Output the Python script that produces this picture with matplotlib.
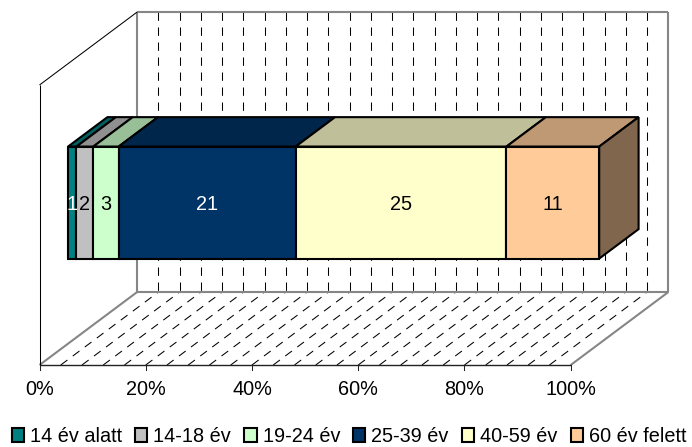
import matplotlib
matplotlib.use('Agg')
import matplotlib.pyplot as plt
from matplotlib.patches import Polygon, Patch

plt.rcParams['font.family'] = ['Liberation Sans', 'DejaVu Sans']
plt.rcParams['lines.scale_dashes'] = False

# Data
categories = ['14 év alatt', '14-18 év', '19-24 év', '25-39 év', '40-59 év', '60 év felett']
values = [1, 2, 3, 21, 25, 11]
colors = ['#008080', '#C0C0C0', '#CCFFCC', '#003366', '#FFFFCC', '#FFCC99']
top_colors = ['#006060', '#909090', '#99BF99', '#00264C', '#BFBF99', '#BF9973']
side_color = '#80664D'
label_colors = ['white', 'black', 'black', 'white', 'black', 'black']
tick_values = [0, 20, 40, 60, 80, 100]
grid_values = list(range(4, 100, 4))


# percent along x, depth into the chart and height (both 0-1) to pixels
def project(x, d, z):
    return (39.5 + 5.312 * x + 97.7 * d, 365 - 73 * d - 280 * z)


fig = plt.figure(figsize=(6.92, 4.47), dpi=100)
ax = fig.add_axes([0, 0, 1, 1])
ax.set_xlim(0, 692)
ax.set_ylim(447, 0)
ax.axis('off')


def line(p, q, **kw):
    ax.plot([p[0], q[0]], [p[1], q[1]], solid_capstyle='butt', dash_capstyle='butt', **kw)


dash = (0, (6.0, 4.8))

# Dashed gridlines on back wall and floor
for g in grid_values:
    line(project(g, 1, 1), project(g, 1, 0), color='black', lw=0.75, linestyle=dash, zorder=1)
    line(project(g, 0, 0), project(g, 1, 0), color='black', lw=0.75, linestyle=dash, zorder=1)

# Grey frame of wall and floor
grey = dict(color='#868686', lw=1.5, zorder=2)
line(project(0, 1, 0), project(0, 1, 1), **grey)
line(project(0, 1, 1), project(100, 1, 1), **grey)
line(project(100, 1, 1), project(100, 1, 0), **grey)
line(project(0, 1, 0), project(100, 1, 0), **grey)
line(project(0, 0, 0), project(0, 1, 0), **grey)
line(project(100, 0, 0), project(100, 1, 0), **grey)

# Left wall and x axis
thin = dict(color='black', lw=0.75, zorder=3)
line(project(0, 0, 0), project(0, 0, 1), **thin)
line(project(0, 0, 1), project(0, 1, 1), **thin)
line(project(0, 0, 0), project(100, 0, 0), color='#222222', lw=1.0, zorder=3)
for t in tick_values:
    px, py = project(t, 0, 0)
    ax.plot([px, px], [py, py + 5], color='#222222', lw=0.75, zorder=3)
    ax.text(px, py + 24.5, '%d%%' % t, ha='center', va='center', fontsize=14.3, color='black')

# Stacked 3D bar
d0, d1 = 0.292, 0.695
z0, z1 = 0.304, 0.704
total = sum(values)
edge = dict(ec='black', lw=1.5, joinstyle='miter', zorder=4)
left = 0
for i, v in enumerate(values):
    right = left + v / total * 100
    ax.add_patch(Polygon([project(left, d0, z1), project(right, d0, z1),
                          project(right, d1, z1), project(left, d1, z1)],
                         fc=top_colors[i], **edge))
    ax.add_patch(Polygon([project(left, d0, z0), project(right, d0, z0),
                          project(right, d0, z1), project(left, d0, z1)],
                         fc=colors[i], **edge))
    cx, cy = project((left + right) / 2, d0, (z0 + z1) / 2)
    ax.text(cx, cy + 1.5, str(v), ha='center', va='center', fontsize=14.3,
            color=label_colors[i], zorder=5)
    left = right
ax.add_patch(Polygon([project(100, d0, z0), project(100, d1, z0),
                      project(100, d1, z1), project(100, d0, z1)],
                     fc=side_color, **edge))

# Legend
handles = [Patch(fc=c, ec='black', lw=1.5, label=n) for c, n in zip(colors, categories)]
ax.legend(handles=handles, ncol=6, loc='center', bbox_to_anchor=(349 / 692, 1 - 436.5 / 447),
          frameon=False, fontsize=14.3, handlelength=0.62, handleheight=0.72,
          handletextpad=0.3, columnspacing=0.66, borderpad=0, borderaxespad=0)

plt.savefig('out.png', dpi=100)
